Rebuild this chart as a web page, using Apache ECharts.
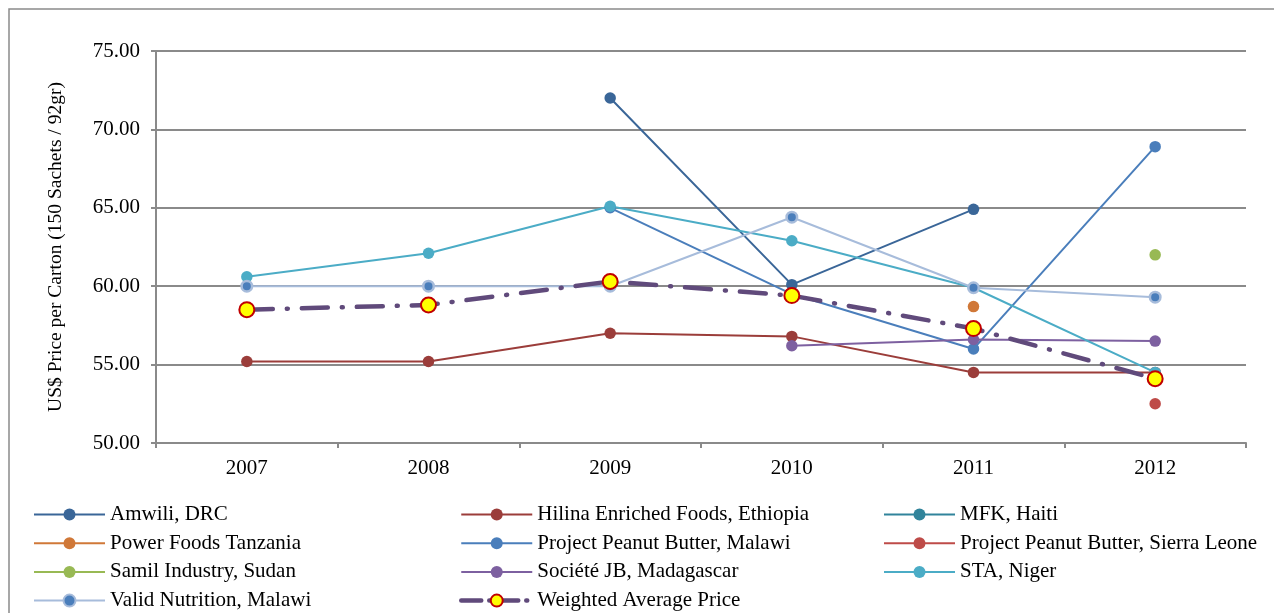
<!DOCTYPE html>
<html>
<head>
<meta charset="utf-8">
<title>RUTF prices per carton</title>
<script src="https://cdn.jsdelivr.net/npm/echarts@6/dist/echarts.min.js"></script>
<style>
  html, body { margin: 0; padding: 0; background: #ffffff; }
  #chart { width: 1274px; height: 613px; }
</style>
</head>
<body>
<div id="chart"></div>
<script>
// Years on the category axis
const years = ['2007', '2008', '2009', '2010', '2011', '2012'];

// Price per carton (US$, 150 sachets / 92 g) for each producer; null = no price that year
const amwiliDRC        = [null, null, 72.0, 60.1, 64.9, null];
const hilinaEthiopia   = [55.2, 55.2, 57.0, 56.8, 54.5, 54.5];
const mfkHaiti         = [null, null, null, null, null, null];
const powerFoodsTz     = [null, null, null, null, 58.7, null];
const ppbMalawi        = [null, null, 65.0, 59.5, 56.0, 68.9];
const ppbSierraLeone   = [null, null, null, null, null, 52.5];
const samilSudan       = [null, null, null, null, null, 62.0];
const societeJB        = [null, null, null, 56.2, 56.6, 56.5];
const staNiger         = [60.6, 62.1, 65.1, 62.9, 59.9, 54.5];
const validMalawi      = [60.0, 60.0, 60.0, 64.4, 59.9, 59.3];
const weightedAverage  = [58.5, 58.8, 60.3, 59.4, 57.3, 54.1];

// Value axis ticks
const yMin = 50, yMax = 75, yStep = 5;

const serif = 'Liberation Serif';
const gridGray = '#8a8a8a';

function producer(name, data, color, extra) {
  return Object.assign({
    name: name,
    type: 'line',
    data: data,
    symbol: 'circle',
    symbolSize: 11.5,
    showAllSymbol: true,
    connectNulls: false,
    lineStyle: { color: color, width: 2 },
    itemStyle: { color: color },
    emphasis: { disabled: true }
  }, extra || {});
}

const avgDash = [26, 14, 1, 14];

const series = [
  producer('Amwili, DRC', amwiliDRC, '#3A6698'),
  producer('Hilina Enriched Foods, Ethiopia', hilinaEthiopia, '#9B3D3A'),
  producer('MFK, Haiti', mfkHaiti, '#31849B'),
  producer('Power Foods Tanzania', powerFoodsTz, '#D07838'),
  producer('Project Peanut Butter, Malawi', ppbMalawi, '#4A7EBB'),
  producer('Project Peanut Butter, Sierra Leone', ppbSierraLeone, '#BE4B48'),
  producer('Samil Industry, Sudan', samilSudan, '#98B954'),
  producer('Société JB, Madagascar', societeJB, '#7D60A0'),
  producer('STA, Niger', staNiger, '#4BACC6'),
  producer('Valid Nutrition, Malawi', validMalawi, '#A7BCDB', {
    symbolSize: 10.5,
    itemStyle: { color: '#4A7EBB', borderColor: '#A7BCDB', borderWidth: 2.5 }
  }),
  producer('Weighted Average Price', weightedAverage, '#604A7B', {
    symbolSize: 15,
    lineStyle: { color: '#604A7B', width: 4.5, type: avgDash, cap: 'round' },
    itemStyle: { color: '#FFFF00', borderColor: '#C00000', borderWidth: 2 },
    z: 5
  })
];

// Legend laid out as three columns, read row by row
const legendColumns = [
  { left: 33, names: ['Amwili, DRC', 'Power Foods Tanzania', 'Samil Industry, Sudan', 'Valid Nutrition, Malawi'] },
  { left: 459, names: ['Hilina Enriched Foods, Ethiopia', 'Project Peanut Butter, Malawi', 'Société JB, Madagascar', 'Weighted Average Price'] },
  { left: 883, names: ['MFK, Haiti', 'Project Peanut Butter, Sierra Leone', 'STA, Niger'] }
];

const legends = legendColumns.map(col => ({
  orient: 'vertical',
  left: col.left,
  top: 504,
  itemWidth: 71,
  itemHeight: 15,
  itemGap: 7.7,
  padding: 0,
  selectedMode: false,
  lineStyle: { width: 2 },
  data: col.names.map(n => n === 'Weighted Average Price'
    ? { name: n, lineStyle: { width: 4.5, type: [20, 8, 1, 8], cap: 'round' } }
    : { name: n }),
  textStyle: { fontFamily: serif, fontSize: 21, color: '#000', lineHeight: 21 }
}));

const chart = echarts.init(document.getElementById('chart'), null, { renderer: 'canvas' });
chart.setOption({
  animation: false,
  backgroundColor: '#ffffff',
  grid: { left: 156, right: 28, top: 51, bottom: 170, containLabel: false },
  legend: legends,
  graphic: [{
    type: 'rect',
    shape: { x: 9, y: 9, width: 1300, height: 700 },
    style: { fill: 'none', stroke: '#8a8a8a', lineWidth: 1.5 },
    silent: true
  }],
  xAxis: {
    type: 'category',
    data: years,
    boundaryGap: true,
    axisLine: { lineStyle: { color: gridGray, width: 2 } },
    axisTick: { show: true, length: 5, interval: 0, lineStyle: { color: gridGray, width: 2 } },
    axisLabel: { fontFamily: serif, fontSize: 21, color: '#000', margin: 15 },
    splitLine: { show: false }
  },
  yAxis: {
    type: 'value',
    min: yMin,
    max: yMax,
    interval: yStep,
    name: 'US$ Price per Carton (150 Sachets / 92gr)',
    nameLocation: 'middle',
    nameGap: 90,
    nameTextStyle: { fontFamily: serif, fontSize: 19.5, color: '#000' },
    axisLine: { show: true, lineStyle: { color: gridGray, width: 2 } },
    axisTick: { show: true, length: 5, lineStyle: { color: gridGray, width: 2 } },
    axisLabel: {
      fontFamily: serif, fontSize: 21, color: '#000', margin: 16,
      formatter: v => v.toFixed(2)
    },
    splitLine: { show: true, lineStyle: { color: gridGray, width: 2 } }
  },
  tooltip: { show: false },
  series: series
});
</script>
</body>
</html>
